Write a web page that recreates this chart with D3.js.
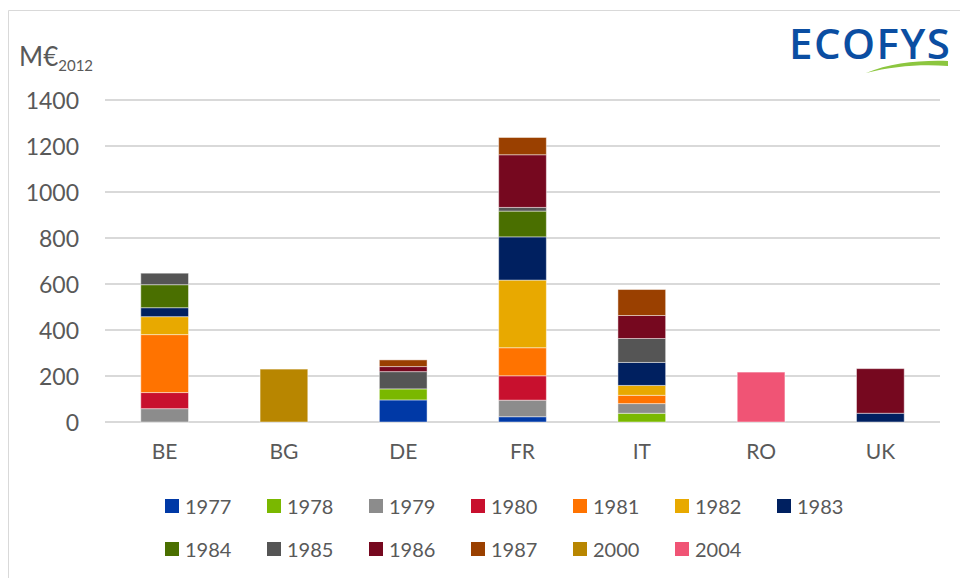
<!DOCTYPE html>
<html>
  <head>
    <meta charset="utf-8">
    <title></title>
    <style>
      body, html{
        margin: 0;
        width: 100%;
        height: 100%;
        background: #fff;
      }
      svg text{
        font-family: Lato, "Open Sans", sans-serif;
        fill: #595959;
      }
    </style>
  </head>
  <body>
    <div id="chart"></div>
    <script src="https://cdnjs.cloudflare.com/ajax/libs/d3/7.8.5/d3.min.js" charset="utf-8"></script>
    <script>
      var categories = ['BE', 'BG', 'DE', 'FR', 'IT', 'RO', 'UK']
      var years = ['1977', '1978', '1979', '1980', '1981', '1982', '1983', '1984', '1985', '1986', '1987', '2000', '2004']
      // values per year, in category order
      var v1977 = [0, 0, 96, 23, 0, 0, 0]
      var v1978 = [0, 0, 48, 0, 38, 0, 0]
      var v1979 = [58, 0, 0, 72, 42, 0, 0]
      var v1980 = [70, 0, 0, 106, 0, 0, 0]
      var v1981 = [252, 0, 0, 122, 36, 0, 0]
      var v1982 = [78, 0, 0, 294, 43, 0, 0]
      var v1983 = [39, 0, 0, 188, 100, 0, 38]
      var v1984 = [100, 0, 0, 112, 0, 0, 0]
      var v1985 = [50, 0, 75, 16, 104, 0, 0]
      var v1986 = [0, 0, 22, 229, 100, 0, 194]
      var v1987 = [0, 0, 29, 75, 113, 0, 0]
      var v2000 = [0, 230, 0, 0, 0, 0, 0]
      var v2004 = [0, 0, 0, 0, 0, 217, 0]
      var yTicks = [0, 200, 400, 600, 800, 1000, 1200, 1400]
      var colors = ['#0039a6', '#7ab800', '#8c8c8c', '#c8102e', '#ff7300', '#e8a900', '#002060',
                    '#4a6f00', '#555555', '#76081f', '#9a4000', '#b88600', '#f05475']

      var series = [v1977, v1978, v1979, v1980, v1981, v1982, v1983, v1984, v1985, v1986, v1987, v2000, v2004]
      var rows = categories.map(function(c, i){
        var r = {cat: c}
        years.forEach(function(y, j){ r[y] = series[j][i] })
        return r
      })

      var width = 960, height = 578
      var svg = d3.select('#chart').append('svg').attr('width', width).attr('height', height)

      // frame
      svg.append('path').attr('d', 'M8.5,' + height + 'V10.5H' + width)
        .attr('fill', 'none').attr('stroke', '#d9d9d9').attr('stroke-width', 1)

      var x = d3.scaleBand().domain(categories).range([105, 940]).paddingInner(0.6).paddingOuter(0.3)
      var y = d3.scaleLinear().domain([0, 1400]).range([422, 100])
      var color = d3.scaleOrdinal().domain(years).range(colors)

      // gridlines
      svg.append('g').selectAll('line').data(yTicks).enter().append('line')
        .attr('x1', 105).attr('x2', 940)
        .attr('y1', function(d){ return y(d) }).attr('y2', function(d){ return y(d) })
        .attr('stroke', '#d9d9d9').attr('stroke-width', 2)

      var yAxis = svg.append('g').attr('transform', 'translate(79,0)')
        .call(d3.axisLeft(y).tickValues(yTicks).tickFormat(d3.format('d')).tickSize(0).tickPadding(0))
      yAxis.select('.domain').remove()
      yAxis.selectAll('text').style('font-size', '23px').attr('dy', '0.35em')

      var xAxis = svg.append('g').attr('transform', 'translate(0,422)')
        .call(d3.axisBottom(x).tickSize(0).tickPadding(22))
      xAxis.select('.domain').remove()
      xAxis.selectAll('text').style('font-size', '21px')

      var stack = d3.stack().keys(years)(rows)
      svg.append('g').selectAll('g').data(stack).enter().append('g')
        .attr('fill', function(d){ return color(d.key) })
        .selectAll('rect').data(function(d){ return d.filter(function(p){ return p[1] - p[0] > 0 }) })
        .enter().append('rect')
        .attr('x', function(d){ return x(d.data.cat) })
        .attr('width', x.bandwidth())
        .attr('y', function(d){ return y(d[1]) })
        .attr('height', function(d){ return y(d[0]) - y(d[1]) })
        .attr('stroke', 'rgba(255,255,255,0.45)').attr('stroke-width', 1)

      // unit label
      var unit = svg.append('text').attr('x', 19).attr('y', 66).style('font-size', '26px')
      unit.append('tspan').text('M€')
      unit.append('tspan').attr('dy', 5).style('font-size', '15px').text('2012')

      // legend
      var legend = svg.append('g').selectAll('g').data(years).enter().append('g')
        .attr('transform', function(d, i){
          return 'translate(' + (165 + (i % 7) * 102) + ',' + (i < 7 ? 499 : 542) + ')'
        })
      legend.append('rect').attr('width', 14).attr('height', 14).attr('fill', function(d){ return color(d) })
      legend.append('text').attr('x', 20).attr('y', 15).style('font-size', '20px').text(function(d){ return d })

      // logo
      svg.append('text').attr('x', 789).attr('y', 59).text('ECOFYS')
        .style('font-family', '"Open Sans", sans-serif').style('font-size', '42px').style('font-weight', 600)
        .style('letter-spacing', '1.5px').style('fill', '#0b4ea2')
      svg.append('path')
        .attr('d', 'M866,73 C890,63 920,60 948,61 L948,66 C922,64 893,66 866,73 Z')
        .attr('fill', '#8cc63f')
    </script>
  </body>
</html>
